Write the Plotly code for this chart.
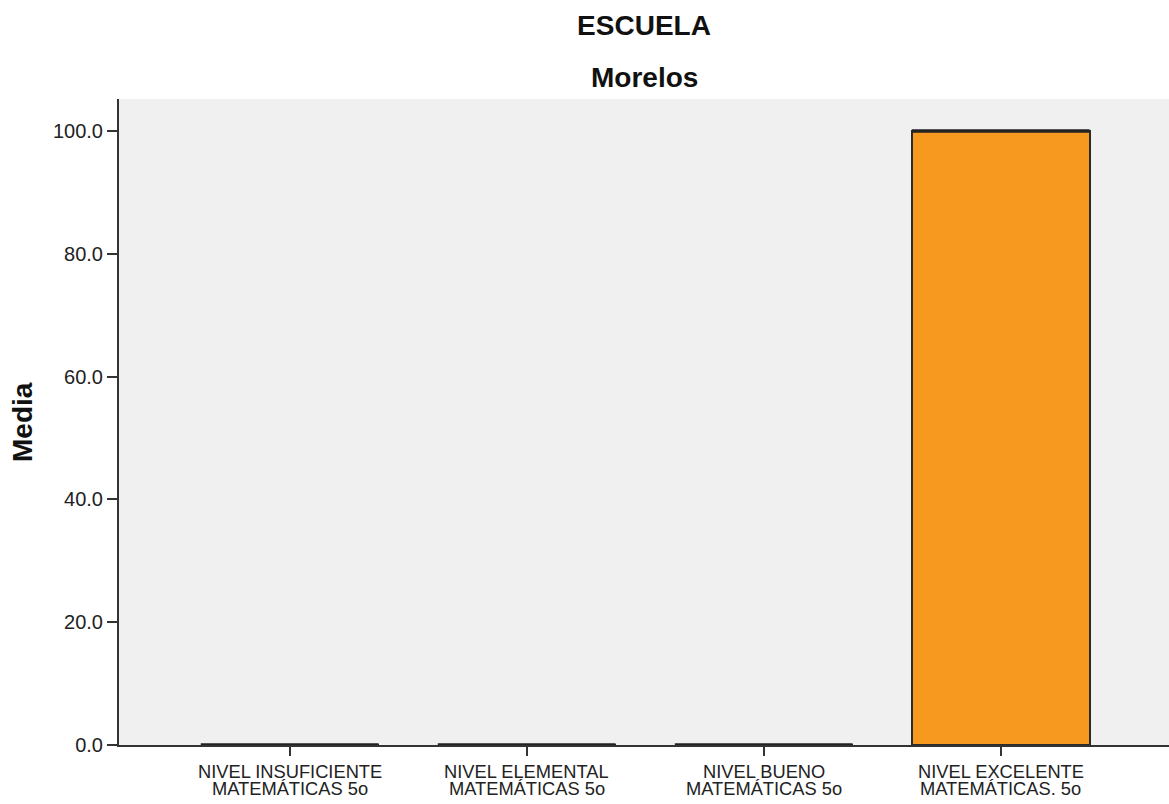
import plotly.graph_objects as go

categories = [
    ("NIVEL INSUFICIENTE", "MATEMÁTICAS 5o"),
    ("NIVEL ELEMENTAL", "MATEMÁTICAS 5o"),
    ("NIVEL BUENO", "MATEMÁTICAS 5o"),
    ("NIVEL EXCELENTE", "MATEMÁTICAS. 5o"),
]
values = [0.0, 0.0, 0.0, 100.0]
y_ticks = [0, 20, 40, 60, 80, 100]
title_text = "ESCUELA"
subtitle_text = "Morelos"
y_title = "Media"

FONT = "Liberation Sans, Arial, sans-serif"
BAR_W = 0.75
W, H = 1169, 804
L, R, T, B = 119, 0, 99, 59
PH = H - T - B
xpos = list(range(len(categories)))

fig = go.Figure()
fig.add_trace(go.Bar(
    x=xpos, y=values, width=BAR_W,
    marker=dict(color="#F7991F", line=dict(color="#2b2b2b", width=2)),
    showlegend=False, hoverinfo="y",
))
# outline of bar tops so zero-height bars remain visible as lines
lx, ly = [], []
for xi, v in zip(xpos, values):
    lx += [xi - BAR_W / 2, xi + BAR_W / 2, None]
    ly += [v, v, None]
fig.add_trace(go.Scatter(x=lx, y=ly, mode="lines",
                         line=dict(color="#222222", width=3.5),
                         showlegend=False, hoverinfo="skip", cliponaxis=False))

annotations = [
    dict(text=f"<b>{subtitle_text}</b>", x=0.5, xref="paper", y=(H - B - 77) / PH,
         yref="paper", xanchor="center", yanchor="middle", showarrow=False,
         font=dict(size=28, color="#111111")),
    dict(text=f"<b>{y_title}</b>", x=(22 - L) / (W - L - R), xref="paper", y=0.5,
         yref="paper", xanchor="center", yanchor="middle", textangle=-90,
         showarrow=False, font=dict(size=28, color="#111111")),
]
# two-line category labels with tight line spacing
for xi, (l1, l2) in zip(xpos, categories):
    for txt, yc in ((l1, 771), (l2, 788.5)):
        annotations.append(dict(
            text=txt, x=xi, xref="x", y=(H - B - yc) / PH, yref="paper",
            xanchor="center", yanchor="middle", showarrow=False,
            font=dict(size=18.3, color="#222222"),
        ))

fig.update_layout(
    width=W, height=H,
    margin=dict(l=L, r=R, t=T, b=B),
    paper_bgcolor="white", plot_bgcolor="#F0F0F0",
    font=dict(family=FONT, color="#222222"),
    title=dict(text=f"<b>{title_text}</b>", x=0.5, xref="paper", xanchor="center",
               y=1 - 25 / H, yanchor="middle", font=dict(size=28, color="#111111")),
    annotations=annotations,
    bargap=0,
)
fig.update_xaxes(
    range=[-0.72, 3.71], tickvals=xpos, ticktext=["" for _ in xpos],
    ticks="outside", ticklen=9, tickwidth=2, tickcolor="#333333",
    showline=True, linecolor="#333333", linewidth=1.5,
    showgrid=False, zeroline=False,
    fixedrange=True,
)
fig.update_yaxes(
    range=[0, 105.2], tickvals=y_ticks, tickformat=".1f",
    ticks="outside", ticklen=10, tickwidth=2, tickcolor="#333333",
    showline=True, linecolor="#333333", linewidth=2,
    showgrid=False, zeroline=False, tickfont=dict(size=20, color="#222222"),
    fixedrange=True,
)

fig.write_html("out.html", config={"displayModeBar": False},
               post_script="document.body.style.margin='0';document.body.style.overflow='hidden';")
